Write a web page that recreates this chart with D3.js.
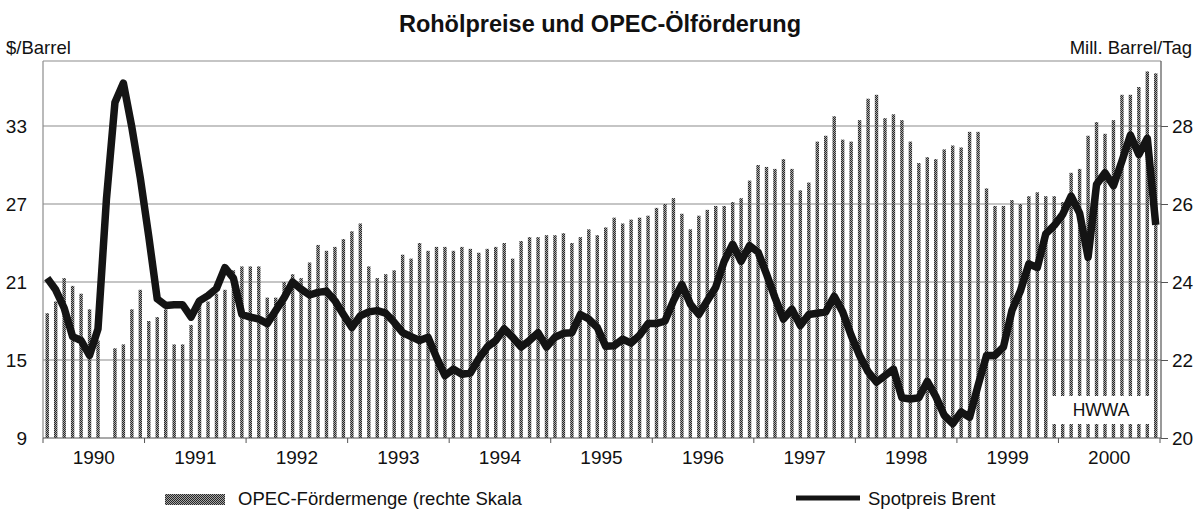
<!DOCTYPE html>
<html>
<head>
<meta charset="utf-8">
<style>
  body { margin: 0; background: #fff; }
  svg { display: block; }
  text { font-family: "Liberation Sans", Arial, sans-serif; fill: #111; }
  .axis text { font-size: 19px; }
  .axis path { display: none; }
</style>
</head>
<body>
<div id="chart"></div>
<script src="https://cdnjs.cloudflare.com/ajax/libs/d3/7.8.5/d3.min.js"></script>
<script>
    const width = 1195;
    const height = 509;

    // data, monthly Jan 1990 .. Dec 2000
    const years = [1990, 1991, 1992, 1993, 1994, 1995, 1996, 1997, 1998, 1999, 2000];
    const brent = [
        21.3, 20.4, 19.0, 16.8, 16.5, 15.35, 17.4, 27.4, 34.8, 36.3, 32.9, 29.0,
        24.5, 19.7, 19.2, 19.25, 19.25, 18.3, 19.55, 19.95, 20.5, 22.1, 21.3, 18.5,
        18.3, 18.15, 17.8, 18.8, 19.8, 21.0, 20.45, 20.0, 20.2, 20.3, 19.55, 18.5,
        17.5, 18.4, 18.7, 18.8, 18.6, 17.9, 17.1, 16.8, 16.5, 16.75, 15.2, 13.8,
        14.3, 13.9, 14.0, 15.1, 16.0, 16.5, 17.4, 16.75, 16.0, 16.5, 17.1, 16.0,
        16.75, 17.05, 17.1, 18.5, 18.15, 17.5, 16.05, 16.1, 16.6, 16.3, 16.9, 17.8,
        17.8, 18.0, 19.55, 20.8, 19.3, 18.5, 19.55, 20.6, 22.6, 23.9, 22.6, 23.8,
        23.3, 21.6, 19.8, 18.15, 18.9, 17.65, 18.5, 18.6, 18.7, 19.9, 18.7, 16.9,
        15.35, 14.1, 13.3, 13.8, 14.3, 12.1, 12.0, 12.1, 13.35, 12.2, 10.75, 10.1,
        11.0, 10.6, 13.05, 15.35, 15.35, 16.0, 18.8, 20.3, 22.4, 22.1, 24.7, 25.35,
        26.2, 27.6, 26.3, 22.9, 28.5, 29.4, 28.4, 30.3, 32.3, 30.8, 32.05, 25.4
    ];
    const opec = [
        23.2, 23.5, 24.1, 23.9, 23.7, 23.3, 22.5, null, 22.3, 22.4, 23.3, 23.8,
        23.0, 23.1, 23.3, 22.4, 22.4, 22.9, 23.4, 23.5, 23.7, 23.8, 24.3, 24.4,
        24.4, 24.4, 23.6, 23.6, 24.0, 24.2, 24.1, 24.5, 24.95, 24.8, 24.9, 25.1,
        25.3, 25.5, 24.4, 24.1, 24.2, 24.3, 24.7, 24.6, 25.0, 24.8, 24.9, 24.9,
        24.8, 24.9, 24.85, 24.75, 24.85, 24.9, 25.0, 24.6, 25.05, 25.15, 25.15, 25.2,
        25.2, 25.25, 25.0, 25.15, 25.35, 25.2, 25.4, 25.65, 25.5, 25.6, 25.65, 25.7,
        25.9, 26.0, 26.15, 25.75, 25.35, 25.7, 25.85, 25.95, 25.95, 26.05, 26.15, 26.6,
        27.0, 26.95, 26.9, 27.15, 26.9, 26.35, 26.55, 27.6, 27.75, 28.25, 27.65, 27.6,
        28.15, 28.7, 28.8, 28.2, 28.3, 28.15, 27.6, 27.05, 27.2, 27.15, 27.4, 27.5,
        27.45, 27.85, 27.85, 26.4, 25.95, 25.95, 26.1, 26.0, 26.2, 26.3, 26.2, 26.2,
        26.05, 26.8, 26.9, 27.75, 28.1, 27.8, 28.15, 28.8, 28.8, 29.0, 29.4, 29.35
    ];
    const leftTicks = [9, 15, 21, 27, 33];
    const rightTicks = [20, 22, 24, 26, 28];

    const months = [];
    years.forEach(y => d3.range(12).forEach(m => months.push(y + "-" + (m + 1))));
    const rows = months.map((m, i) => ({ month: m, brent: brent[i], opec: opec[i] }));

    const plot = { left: 43, right: 1160, top: 61, bottom: 438 };

    const svg = d3.select("#chart")
        .append("svg")
            .attr("width", width)
            .attr("height", height);

    // texture for the production bars
    const pat = svg.append("defs").append("pattern")
        .attr("id", "dots")
        .attr("patternUnits", "userSpaceOnUse")
        .attr("width", 2).attr("height", 2);
    pat.append("rect").attr("width", 2).attr("height", 2).attr("fill", "#a6a6a6");
    pat.append("rect").attr("width", 1).attr("height", 1).attr("fill", "#262626");
    pat.append("rect").attr("x", 1).attr("y", 1).attr("width", 1).attr("height", 1).attr("fill", "#262626");

    const x = d3.scaleBand().domain(months).range([plot.left, plot.right]);
    const xYear = d3.scaleBand().domain(years).range([plot.left, plot.right]);
    const yL = d3.scaleLinear().domain([9, 38]).range([plot.bottom, plot.top]);
    const yR = d3.scaleLinear().domain([20, 29.6667]).range([plot.bottom, plot.top]);

    // title and units
    svg.append("text")
        .attr("x", 600).attr("y", 32)
        .attr("text-anchor", "middle")
        .style("font-size", "23.5px").style("font-weight", "bold")
        .text("Rohölpreise und OPEC-Ölförderung");
    svg.append("text")
        .attr("x", 6).attr("y", 54)
        .style("font-size", "18.5px")
        .text("$/Barrel");
    svg.append("text")
        .attr("x", 1192).attr("y", 54)
        .attr("text-anchor", "end")
        .style("font-size", "18.5px")
        .text("Mill. Barrel/Tag");

    // grid + frame
    svg.append("g").selectAll("line")
        .data(leftTicks.filter(d => d > 9))
        .join("line")
            .attr("x1", plot.left).attr("x2", plot.right + 1)
            .attr("y1", d => yL(d)).attr("y2", d => yL(d))
            .attr("stroke", "#8c8c8c").attr("stroke-width", 1.2);
    svg.append("line")
        .attr("x1", plot.left).attr("x2", plot.right + 1)
        .attr("y1", plot.top).attr("y2", plot.top)
        .attr("stroke", "#8c8c8c").attr("stroke-width", 1.2);
    svg.append("line")
        .attr("x1", plot.left).attr("x2", plot.left)
        .attr("y1", plot.top).attr("y2", plot.bottom)
        .attr("stroke", "#8c8c8c").attr("stroke-width", 1.2);

    // OPEC bars
    const barW = 3.4;
    svg.append("g").selectAll("rect")
        .data(rows.filter(d => d.opec != null))
        .join("rect")
            .attr("x", d => x(d.month) + x.bandwidth() / 2 - barW / 2)
            .attr("y", d => yR(d.opec))
            .attr("width", barW)
            .attr("height", d => Math.max(0, yR(20) - yR(d.opec)))
            .attr("fill", "url(#dots)");

    // bottom + right axis lines
    svg.append("line")
        .attr("x1", plot.left).attr("x2", plot.right + 1)
        .attr("y1", plot.bottom).attr("y2", plot.bottom)
        .attr("stroke", "#555").attr("stroke-width", 1.2);
    svg.append("line")
        .attr("x1", plot.right + 1).attr("x2", plot.right + 1)
        .attr("y1", plot.top).attr("y2", plot.bottom)
        .attr("stroke", "#555").attr("stroke-width", 1.2);

    // HWWA box
    svg.append("rect")
        .attr("x", 1049).attr("y", 396)
        .attr("width", 105).attr("height", 28)
        .attr("fill", "#fff");
    svg.append("text")
        .attr("x", 1101).attr("y", 415.5)
        .attr("text-anchor", "middle")
        .style("font-size", "17.5px")
        .text("HWWA");

    // Brent line
    const line = d3.line()
        .x(d => x(d.month) + x.bandwidth() / 2)
        .y(d => yL(d.brent));
    svg.append("path")
        .datum(rows)
        .attr("d", line)
        .attr("fill", "none")
        .attr("stroke", "#141414")
        .attr("stroke-width", 7.5)
        .attr("stroke-linejoin", "round");

    // axes
    svg.append("g")
        .attr("class", "axis")
        .attr("transform", `translate(${plot.left},0)`)
        .call(d3.axisLeft(yL).tickValues(leftTicks).tickSize(0).tickPadding(16));

    svg.append("g")
        .attr("class", "axis")
        .attr("transform", `translate(${plot.right + 1},0)`)
        .call(d3.axisRight(yR).tickValues(rightTicks).tickSize(7).tickPadding(4))
        .selectAll("line").attr("stroke", "#555");

    svg.append("g")
        .attr("class", "axis")
        .attr("transform", `translate(0,${plot.bottom})`)
        .call(d3.axisBottom(xYear).tickSize(0).tickPadding(13));

    // year boundary ticks
    svg.append("g").selectAll("line")
        .data(years.map(y => xYear(y)).concat([plot.right]))
        .join("line")
            .attr("x1", d => d).attr("x2", d => d)
            .attr("y1", plot.bottom).attr("y2", plot.bottom + 5)
            .attr("stroke", "#555");

    // legend
    svg.append("rect")
        .attr("x", 165).attr("y", 494)
        .attr("width", 60).attr("height", 11)
        .attr("fill", "url(#dots)");
    svg.append("text")
        .attr("x", 238).attr("y", 504.5)
        .style("font-size", "18.5px")
        .text("OPEC-Fördermenge (rechte Skala");
    svg.append("line")
        .attr("x1", 796).attr("x2", 860)
        .attr("y1", 498).attr("y2", 498)
        .attr("stroke", "#141414").attr("stroke-width", 5);
    svg.append("text")
        .attr("x", 868).attr("y", 504.5)
        .style("font-size", "18.5px")
        .text("Spotpreis Brent");
</script>
</body>
</html>
